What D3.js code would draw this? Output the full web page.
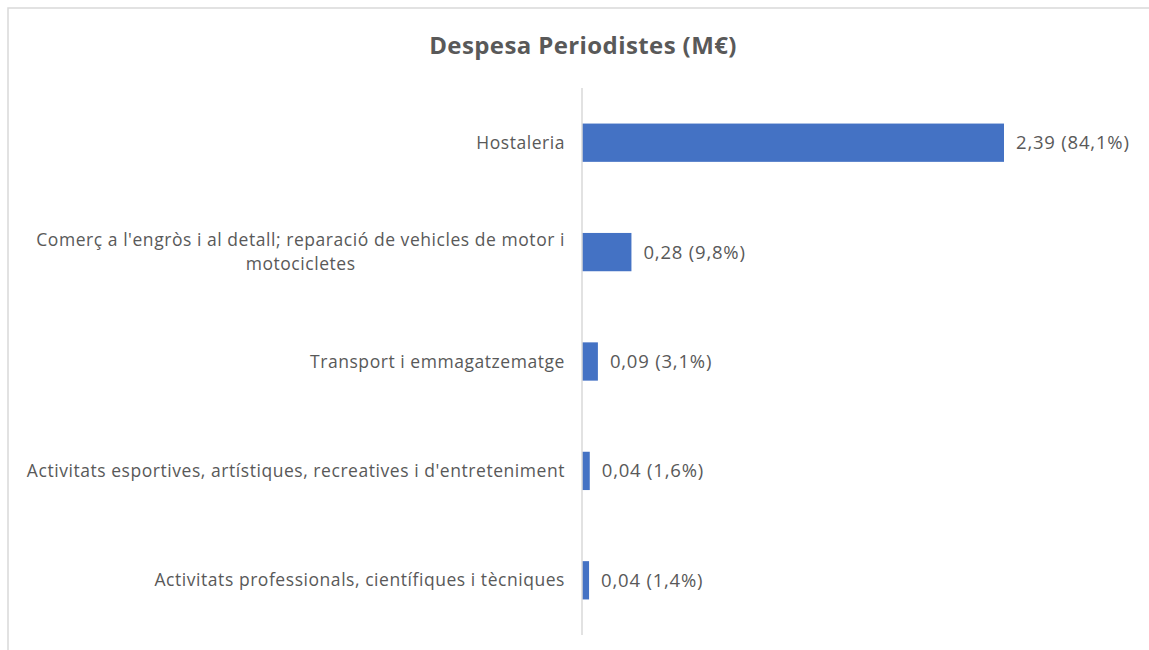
<!DOCTYPE html>
<html>
<head>
<meta charset="utf-8">
<script src="https://cdn.jsdelivr.net/npm/d3@7"></script>
<style>
    body { margin: 0; background: #fff; }
    text { font-family: "Open Sans", Lato, sans-serif; fill: #595959; }
</style>
</head>
<body>
<script>
let width = 1149;
let height = 650;

let categories = [
    "Hostaleria",
    "Comerç a l'engròs i al detall; reparació de vehicles de motor i|motocicletes",
    "Transport i emmagatzematge",
    "Activitats esportives, artístiques, recreatives i d'entreteniment",
    "Activitats professionals, científiques i tècniques"
];
let values = [2.39, 0.28, 0.09, 0.044, 0.04];
let shares = [84.1, 9.8, 3.1, 1.6, 1.4];

let margin = { top: 88, left: 582, bottom: 15 };
let plotBottom = 635;

let svg = d3.select("body").append("svg")
    .attr("width", width)
    .attr("height", height);

// chart frame
svg.append("rect")
    .attr("x", 8).attr("y", 8)
    .attr("width", width + 10).attr("height", height + 10)
    .style("fill", "none")
    .style("stroke", "#d9d9d9")
    .style("stroke-width", 1.5);

svg.append("text")
    .attr("x", 583)
    .attr("y", 54)
    .attr("text-anchor", "middle")
    .style("font-size", "24px")
    .style("font-weight", "bold")
    .style("letter-spacing", "0.4px")
    .text("Despesa Periodistes (M€)");

let x = d3.scaleLinear()
    .domain([0, 2.39])
    .range([margin.left, 1004]);

let y = d3.scaleBand()
    .domain(categories)
    .range([margin.top, plotBottom])
    .paddingInner(0.65)
    .paddingOuter(0.325);

let g = svg.append("g");

g.selectAll("rect.bar")
    .data(categories)
    .enter()
    .append("rect")
    .attr("class", "bar")
    .attr("x", x(0))
    .attr("y", d => y(d))
    .attr("width", (d, i) => x(values[i]) - x(0))
    .attr("height", y.bandwidth())
    .style("fill", "#4472c4");

// vertical axis line
g.append("line")
    .attr("x1", x(0)).attr("x2", x(0))
    .attr("y1", margin.top).attr("y2", plotBottom)
    .style("stroke", "#d9d9d9")
    .style("stroke-width", 1.5);

// category labels
g.selectAll("text.cat")
    .data(categories)
    .enter()
    .append("text")
    .attr("class", "cat")
    .attr("text-anchor", "middle")
    .style("font-size", "17.5px")
    .style("letter-spacing", "0.55px")
    .each(function (d) {
        let lines = d.split("|");
        let cy = y(d) + y.bandwidth() / 2;
        let t = d3.select(this);
        lines.forEach((line, k) => {
            t.append("tspan")
                .attr("y", cy + (k - (lines.length - 1) / 2) * 24 + 6)
                .text(line);
        });
    });

// right-align single lines, centre wrapped ones on the longest line
g.selectAll("text.cat").each(function () {
    let t = d3.select(this);
    let spans = t.selectAll("tspan");
    let widest = d3.max(spans.nodes(), n => n.getComputedTextLength());
    let right = 565;
    spans.attr("x", right - widest / 2);
});

// value labels
let fmt = v => v.toFixed(2).replace(".", ",");
g.selectAll("text.val")
    .data(categories)
    .enter()
    .append("text")
    .attr("class", "val")
    .attr("x", (d, i) => x(values[i]) + 12)
    .attr("y", d => y(d) + y.bandwidth() / 2 + 6.5)
    .style("font-size", "18.5px")
    .style("letter-spacing", "0.8px")
    .text((d, i) => fmt(values[i]) + " (" + shares[i].toFixed(1).replace(".", ",") + "%)");
</script>
</body>
</html>
